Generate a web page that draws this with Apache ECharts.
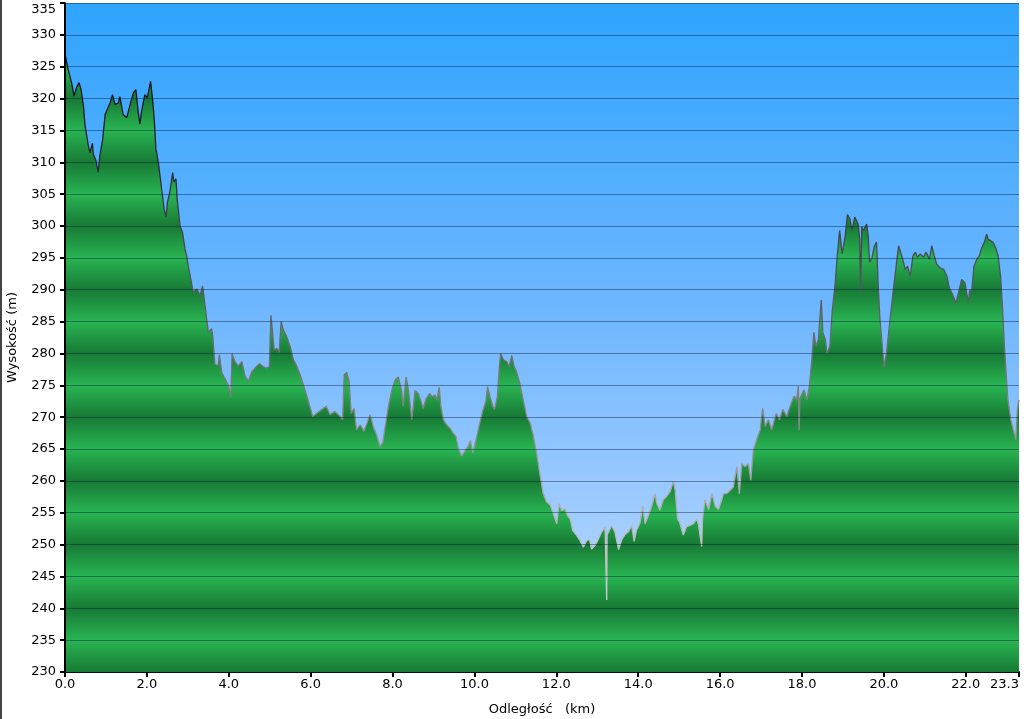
<!DOCTYPE html>
<html>
<head>
<meta charset="utf-8">
<script src="https://cdn.jsdelivr.net/npm/echarts@6/dist/echarts.min.js"></script>
<style>
html,body{margin:0;padding:0;background:#fff;}
#chart{width:1024px;height:719px;}
</style>
</head>
<body>
<div id="chart"></div>
<script>
// Distance (km)
var distances = [
0.00,0.08,0.16,0.22,0.28,0.34,0.39,0.45,0.49,0.57,0.61,0.67,0.69,0.76,0.81,0.85,0.92,0.98,1.02,1.10,
1.16,1.22,1.30,1.34,1.42,1.51,1.59,1.67,1.73,1.79,1.83,1.87,1.95,2.01,2.06,2.09,2.14,2.18,2.22,2.28,
2.32,2.36,2.42,2.47,2.50,2.56,2.63,2.66,2.71,2.74,2.81,2.87,2.93,2.97,3.01,3.09,3.13,3.22,3.30,3.36,
3.42,3.50,3.58,3.61,3.66,3.74,3.77,3.83,3.91,3.99,4.05,4.08,4.15,4.23,4.32,4.40,4.48,4.56,4.64,4.75,
4.84,4.93,4.99,5.03,5.06,5.11,5.17,5.23,5.28,5.33,5.41,5.50,5.58,5.66,5.74,5.82,5.90,5.98,6.05,6.15,
6.27,6.38,6.47,6.59,6.72,6.78,6.82,6.88,6.94,6.99,7.06,7.12,7.21,7.30,7.38,7.45,7.53,7.61,7.69,7.76,
7.82,7.90,7.98,8.06,8.14,8.22,8.26,8.33,8.39,8.43,8.47,8.55,8.63,8.71,8.75,8.82,8.90,8.98,9.04,9.08,
9.14,9.18,9.24,9.32,9.40,9.48,9.55,9.61,9.69,9.77,9.85,9.90,9.96,10.04,10.12,10.20,10.28,10.32,10.38,10.45,
10.49,10.56,10.61,10.64,10.71,10.79,10.85,10.91,10.97,11.03,11.11,11.19,11.28,11.36,11.44,11.52,11.60,11.68,11.76,11.85,
11.93,12.01,12.07,12.13,12.21,12.27,12.34,12.40,12.50,12.58,12.66,12.74,12.81,12.86,12.95,13.03,13.11,13.19,13.22,13.23,
13.24,13.27,13.35,13.43,13.52,13.60,13.68,13.76,13.84,13.90,13.96,14.04,14.11,14.17,14.25,14.33,14.41,14.45,14.53,14.61,
14.69,14.78,14.86,14.90,14.96,15.02,15.10,15.18,15.27,15.35,15.43,15.47,15.55,15.57,15.63,15.72,15.80,15.88,15.96,16.04,
16.08,16.16,16.24,16.32,16.41,16.47,16.53,16.61,16.69,16.75,16.81,16.89,16.98,17.04,17.10,17.18,17.26,17.37,17.45,17.53,
17.63,17.71,17.81,17.87,17.91,17.93,17.95,17.99,18.05,18.12,18.18,18.24,18.29,18.34,18.40,18.47,18.51,18.57,18.61,18.68,
18.74,18.81,18.86,18.92,18.98,19.05,19.11,19.17,19.22,19.29,19.37,19.41,19.43,19.46,19.50,19.58,19.62,19.65,19.71,19.76,
19.82,19.86,19.90,19.97,20.01,20.07,20.15,20.23,20.30,20.36,20.40,20.46,20.52,20.58,20.64,20.71,20.77,20.82,20.89,20.97,
21.03,21.11,21.17,21.23,21.29,21.38,21.46,21.54,21.60,21.68,21.76,21.84,21.90,21.98,22.06,22.10,22.14,22.20,22.27,22.33,
22.39,22.45,22.51,22.55,22.61,22.67,22.73,22.79,22.85,22.90,22.94,22.99,23.03,23.10,23.16,23.22,23.26,23.30
];
// Elevation (m)
var elevations = [
327,324.5,322.5,320.4,321.7,322.5,321.5,318.9,315.7,312.6,311.5,313,311.3,310.2,308.4,311,313.6,317.5,317.3,319.3,
320.6,319.1,319.3,320.3,317.5,317,319.1,320.9,321.4,317.8,316,318,320.6,320.1,321.7,322.7,319.8,316.7,312.1,310,
307.9,305.8,302.7,301.4,303.7,305.3,308.4,306.9,307.4,304.2,300,299,296.4,295.3,293.8,291.1,289.6,290.1,289.1,290.6,
287.5,283.3,283.9,282.7,278.3,278.1,279.8,277,276,275,273.2,280,278.7,278,278.7,276.4,275.6,277.1,277.7,278.4,
277.9,277.7,277.9,286,285.7,280.5,280.8,280.2,285,283.7,282.7,281.1,279,278,276.7,275.1,273.5,271.7,270.1,270.6,
271.2,271.7,270.4,270.9,270.1,269.6,276.7,277,275.6,270.6,271.4,268,268.8,267.8,269.1,270.4,268.5,267.2,265.4,266,
268.5,271.7,274.2,275.8,276.3,274.2,271.7,276.3,274.2,272,269.6,274.2,273.7,272.2,271.4,272.9,273.7,273.2,273.5,272.7,
274.7,271.7,269.6,268.8,268.3,267.5,267,265,263.9,264.7,265.5,266.3,264.4,266.5,268.8,270.9,272.5,274.8,273.2,271.7,
271.2,273.2,277.9,280,279,278.7,277.9,279.7,277.9,277.1,275.2,272.7,270,269.1,267,264.3,261,258,256.7,256.2,
254.8,253.3,256.4,255.3,255.6,254.6,254,252.2,251.4,250.6,249.6,250.6,250.8,249.3,249.9,250.9,252,252.7,252.5,241.3,
251.5,251.2,253,252,249.2,250.8,251.6,252,253,250.5,252.3,253.3,256,253.3,254.6,256,258,256.5,255.4,257,
257.5,258.3,259.9,258.6,254.1,253.3,251.5,252.8,253,253.3,254,253.2,249.7,254,257,255.5,258,256,255.5,257,
258,258,258.5,259,262.2,258,262.7,262.2,262.7,260.1,264.8,266.4,268,271.4,268.5,269.6,268,270.6,269.6,271.2,
270.1,271.7,273.3,272.7,274.9,268,273,272.7,274.3,272.7,274.9,279,283.3,281.1,282.2,288.4,283.3,282.2,280,281.1,
286.8,291,295.3,299.3,295.6,298.2,301.8,301.1,299.3,301.4,300.3,298,289.4,299.9,299.3,300.3,298.2,294.3,295,296.7,
297.5,291,285.8,280.5,277.9,280.5,285.3,290,293.7,296.9,297.1,294.8,293.2,293.7,292.1,295.3,295.9,295.1,295.6,295.1,
295.9,294.8,296.9,295.3,294,293.4,293.2,292.1,290.3,289.2,287.9,290,291.6,291.1,288.1,290,289.4,293.7,294.8,295.3,
296.6,297.4,298.7,297.9,297.7,297.4,296.6,295.3,292.1,286.8,281.6,276.4,272.7,269.6,268,266.5,271.2,272.7
];
var yMin = 230, yMax = 335, yStep = 5;
var xMin = 0, xMax = 23.3, xStep = 2;

var data = distances.map(function (d, i) { return [d, elevations[i]]; });

var GRID = {left: 65, top: 3, right: 5, bottom: 47};
var plotTop = GRID.top, plotBottom = 719 - GRID.bottom;

// striped green fill: dark at multiples of 10, bright in between
var stops = [];
for (var v = yMax; v >= yMin; v -= yStep) {
  var off = (yMax - v) / (yMax - yMin);
  stops.push({offset: off, color: (v % 10 === 0) ? '#177a35' : '#29b452'});
}

var FONT = 'DejaVu Sans';
var chart = echarts.init(document.getElementById('chart'), null, {renderer: 'canvas'});
chart.setOption({
  animation: false,
  backgroundColor: '#ffffff',
  grid: {left: GRID.left, top: GRID.top, right: GRID.right, bottom: GRID.bottom,
    outerBoundsMode: 'none', containLabel: false,
    show: true, borderWidth: 0,
    backgroundColor: {type: 'linear', x: 0, y: 0, x2: 0, y2: 1,
      colorStops: [{offset: 0, color: '#2fa4ff'}, {offset: 0.45, color: '#6db6ff'}, {offset: 1, color: '#c6dcff'}]}
  },
  xAxis: {
    type: 'value', min: xMin, max: xMax, interval: xStep,
    name: 'Odległość   (km)', nameLocation: 'middle', nameGap: 31,
    nameTextStyle: {fontFamily: FONT, fontSize: 13, color: '#000'},
    axisLine: {show: true, lineStyle: {color: '#000', width: 2}},
    axisTick: {show: true, length: 5, lineStyle: {color: '#000', width: 2}},
    axisLabel: {fontFamily: FONT, fontSize: 13, color: '#000', margin: 6, showMaxLabel: true,
      alignMaxLabel: 'right', hideOverlap: false,
      formatter: function (v) { return v.toFixed(1); }},
    splitLine: {show: false}
  },
  yAxis: {
    type: 'value', min: yMin, max: yMax, interval: yStep, z: 5,
    name: 'Wysokość (m)', nameLocation: 'middle', nameGap: 46, nameRotate: 90,
    nameTextStyle: {fontFamily: FONT, fontSize: 13, color: '#000'},
    axisLine: {show: true, lineStyle: {color: '#000', width: 2}},
    axisTick: {show: true, length: 5, lineStyle: {color: '#000', width: 2}},
    axisLabel: {fontFamily: FONT, fontSize: 13, color: '#000', margin: 9, verticalAlignMaxLabel: 'top'},
    splitLine: {show: true, lineStyle: {color: 'rgba(10,30,60,0.45)', width: 1}}
  },
  graphic: [{type: 'rect', shape: {x: 0, y: 0, width: 2, height: 719}, style: {fill: '#444'}, z: 10}],
  series: [{
    type: 'line', data: data, showSymbol: false, symbol: 'none', smooth: false, z: 2,
    lineStyle: {width: 1.3, color: {type: 'linear', x: 0, y: plotTop, x2: 0, y2: plotBottom, global: true,
      colorStops: [{offset: 0, color: '#0a0a18'}, {offset: 0.18, color: '#1a1a28'}, {offset: 0.4, color: '#4e5358'},
        {offset: 0.6, color: '#828282'}, {offset: 0.8, color: '#bcbcbc'}, {offset: 1, color: '#e0e0e0'}]}},
    areaStyle: {origin: 'start', opacity: 1, color: {type: 'linear', x: 0, y: plotTop, x2: 0, y2: plotBottom, global: true, colorStops: stops}}
  }]
});
</script>
</body>
</html>
